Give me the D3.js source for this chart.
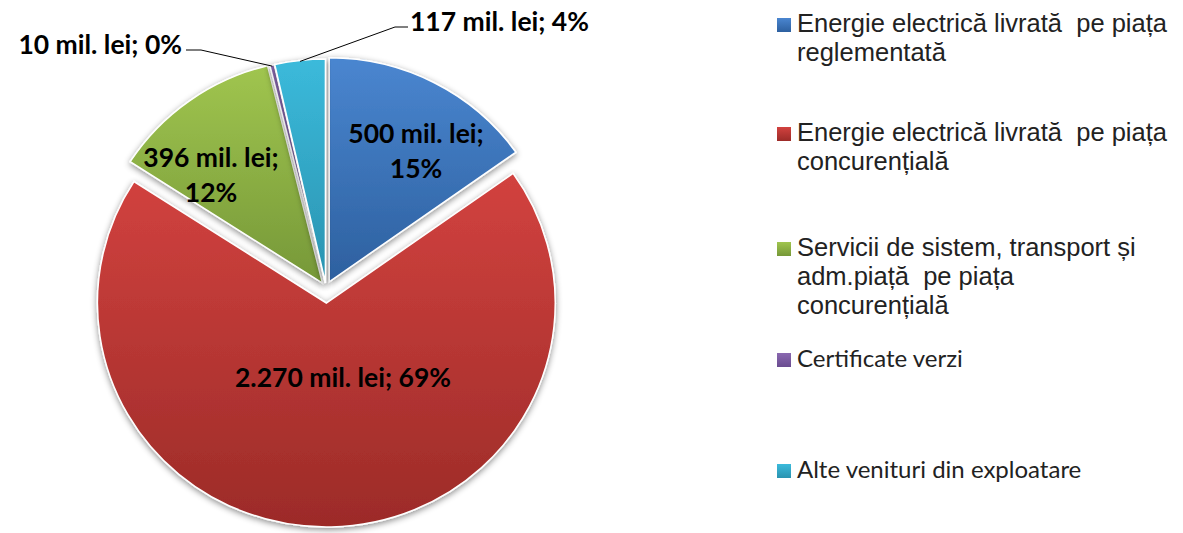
<!DOCTYPE html>
<html>
<head>
<meta charset="utf-8">
<script src="https://d3js.org/d3.v7.min.js"></script>
<style>
body { margin: 0; background: #fff; }
svg { display: block; }
</style>
</head>
<body>
<div id="chart"></div>
<script>
// data
var categories = [
  "Energie electrică livrată pe piața reglementată",
  "Energie electrică livrată pe piața concurențială",
  "Servicii de sistem, transport și adm.piață pe piața concurențială",
  "Certificate verzi",
  "Alte venituri din exploatare"
];
var values = [500, 2270, 396, 10, 117];
var valueLabels = ["500 mil. lei;|15%", "2.270 mil. lei; 69%", "396 mil. lei;|12%", "10 mil. lei; 0%", "117 mil. lei; 4%"];
var legendLines = [
  ["Energie electrică livrată  pe piața", "reglementată"],
  ["Energie electrică livrată  pe piața", "concurențială"],
  ["Servicii de sistem, transport și", "adm.piață  pe piața", "concurențială"],
  ["Certificate verzi"],
  ["Alte venituri din exploatare"]
];

var colorsTop = ["#4a86d0", "#d2423f", "#a0c54f", "#8a68b0", "#3bbadb"];
var colorsBot = ["#2d609f", "#9c2b28", "#769838", "#6a4c90", "#2a93b0"];

var width = 1183, height = 533;
var cx = 326, cy = 288, r = 224, sx = 1.022;
var explode = [7, 15, 6, 5, 5];

var svg = d3.select("#chart").append("svg")
  .attr("width", width)
  .attr("height", height);

var defs = svg.append("defs");
colorsTop.forEach(function(c, i) {
  var g = defs.append("linearGradient")
    .attr("id", "grad" + i)
    .attr("x1", 0).attr("y1", 0).attr("x2", 0).attr("y2", 1);
  g.append("stop").attr("offset", "0%").attr("stop-color", c);
  g.append("stop").attr("offset", "100%").attr("stop-color", colorsBot[i]);
});
var f = defs.append("filter").attr("id", "shadow")
  .attr("x", "-10%").attr("y", "-10%").attr("width", "120%").attr("height", "120%");
f.append("feDropShadow")
  .attr("dx", 0).attr("dy", 2).attr("stdDeviation", 3)
  .attr("flood-color", "#000").attr("flood-opacity", 0.45);

var pie = d3.pie().sort(null).startAngle(0).endAngle(2 * Math.PI);
var arcs = pie(values);
var arc = d3.arc().innerRadius(0).outerRadius(r);

function offset(d, i) {
  var mid = (d.startAngle + d.endAngle) / 2;
  return [cx + Math.sin(mid) * explode[i], cy - Math.cos(mid) * explode[i]];
}

svg.append("g").selectAll("path")
  .data(arcs)
  .enter()
  .append("path")
    .attr("transform", function(d, i) { var o = offset(d, i); return "translate(" + o[0] + "," + o[1] + ") scale(" + sx + ",1)"; })
    .attr("d", arc)
    .attr("fill", function(d, i) { return "url(#grad" + i + ")"; })
    .attr("stroke", "#fff")
    .attr("stroke-width", 1.5)
    .attr("filter", "url(#shadow)");

// data labels
var labelFont = "Lato, 'Open Sans', sans-serif";
var labelSize = 26.5;
var inside = [
  {i: 0, x: 416, y: 143},
  {i: 1, x: 343, y: 387},
  {i: 2, x: 211, y: 167}
];
inside.forEach(function(p) {
  var lines = valueLabels[p.i].split("|");
  lines.forEach(function(t, k) {
    svg.append("text")
      .attr("x", p.x)
      .attr("y", p.y + k * 35)
      .attr("text-anchor", "middle")
      .attr("font-family", labelFont)
      .attr("font-weight", "bold")
      .attr("font-size", labelSize)
      .attr("fill", "#000")
      .text(t);
  });
});

// outside labels with leader lines
function edgePoint(i) {
  var d = arcs[i], o = offset(d, i);
  var mid = (d.startAngle + d.endAngle) / 2;
  return [o[0] + Math.sin(mid) * (r - 1) * sx, o[1] - Math.cos(mid) * (r - 1)];
}
var p3 = edgePoint(3);
svg.append("path")
  .attr("d", d3.line()([[186, 50], [201, 50], p3]))
  .attr("fill", "none").attr("stroke", "#000").attr("stroke-width", 1);
svg.append("text")
  .attr("x", 182).attr("y", 54)
  .attr("text-anchor", "end")
  .attr("font-family", labelFont).attr("font-weight", "bold").attr("font-size", labelSize)
  .text(valueLabels[3]);

var p4 = edgePoint(4);
svg.append("path")
  .attr("d", d3.line()([p4, [395, 27], [408, 27]]))
  .attr("fill", "none").attr("stroke", "#000").attr("stroke-width", 1);
svg.append("text")
  .attr("x", 410).attr("y", 31)
  .attr("font-family", labelFont).attr("font-weight", "bold").attr("font-size", labelSize)
  .text(valueLabels[4]);

// legend
var legendBase = [32, 141, 256, 367, 478];
var legend = svg.append("g");
categories.forEach(function(c, i) {
  var g = legend.append("g");
  g.append("rect")
    .attr("x", 777).attr("y", legendBase[i] - 14)
    .attr("width", 14).attr("height", 14)
    .attr("fill", "url(#grad" + i + ")");
  legendLines[i].forEach(function(t, k) {
    g.append("text")
      .attr("x", 797)
      .attr("y", legendBase[i] + k * 29)
      .style("white-space", "pre")
      .attr("font-family", i < 3 ? "'Liberation Sans', Arial, sans-serif" : labelFont)
      .attr("font-size", i < 3 ? 25.5 : 24)
      .attr("fill", "#222")
      .text(t);
  });
});
</script>
</body>
</html>
